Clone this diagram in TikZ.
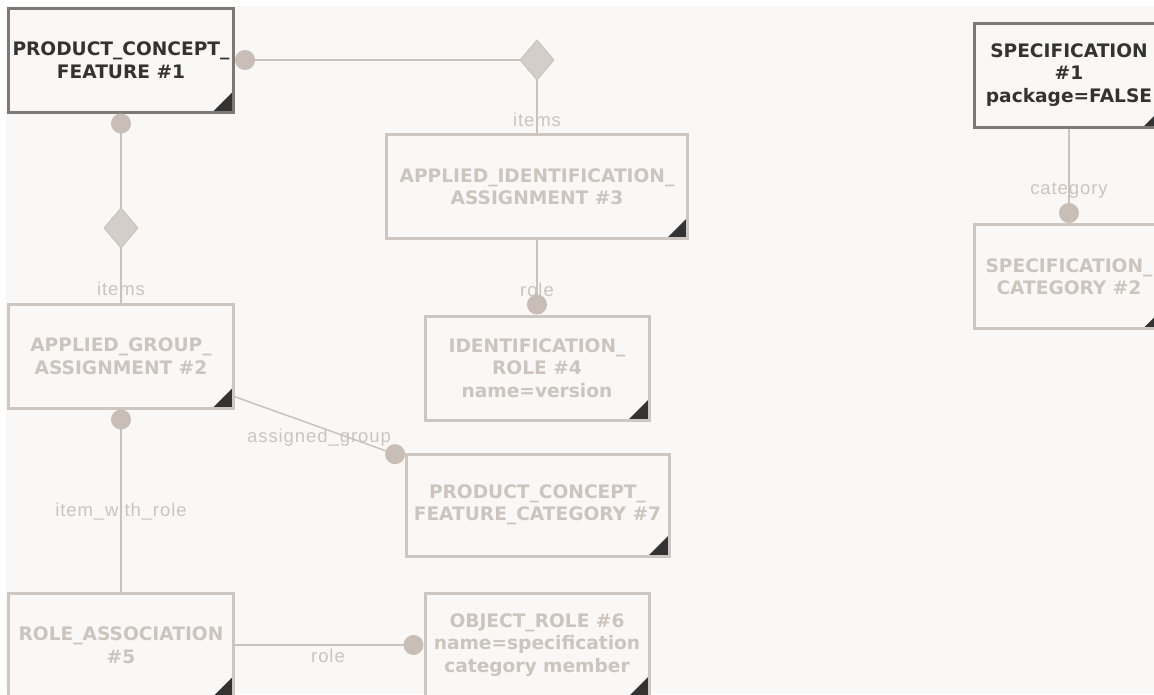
\documentclass[tikz,border=0pt]{standalone}
\usepackage{fontspec}
\setmainfont{Liberation Sans}[LetterSpace=5]
\newfontfamily\boxfont{DejaVu Sans}
\usetikzlibrary{shapes.geometric,arrows.meta}

\definecolor{bgcream}{HTML}{F9F8F6}
\definecolor{boxdark}{HTML}{7E7975}
\definecolor{textdark}{HTML}{333333}
\definecolor{boxlight}{HTML}{CEC6C0}
\definecolor{textlight}{HTML}{CCC4BE}
\definecolor{linelight}{HTML}{CAC2BC}
\definecolor{dotfill}{HTML}{C8BEB7}
\definecolor{linkfill}{HTML}{D4CECA}
\definecolor{cornerdark}{HTML}{333333}

\tikzset{
    entity/.style={draw=boxlight, line width=3pt, fill=bgcream, text=textlight,
        minimum width=225pt, minimum height=104pt, inner sep=0pt, align=center,
        font=\boxfont\bfseries\fontsize{18.6}{22.5}\selectfont,
        path picture={\fill[cornerdark] (path picture bounding box.south east)
            -- ++(-21pt,0) -- ++(21pt,21pt) -- cycle;}},
    focus/.style={entity, draw=boxdark, text=textdark},
    link/.style={shape=diamond, draw=linelight, fill=linkfill, line width=0.8pt,
        minimum width=34pt, minimum height=40pt, inner sep=0pt},
    rel/.style={draw=linelight, line width=1.5pt},
    lbl/.style={text=textlight, inner sep=0pt, font=\fontsize{18.5}{20}\selectfont},
    dot/.tip={Circle[length=20pt, width=20pt, color=dotfill]}
}

\begin{document}
\begin{tikzpicture}[x=1pt, y=-1pt]
    % Hintergrund
    \clip (0,0) rectangle (1154,694);
    \fill[white] (0,0) rectangle (1154,694);
    \fill[bgcream] (6,6) rectangle (1154,694);

    % ==========================================
    % ENTITAETEN
    % ==========================================
    \node[focus] (pcf) at (121,60) {PRODUCT\_CONCEPT\_\\FEATURE \#1};
    \node[entity, minimum width=301pt] (aia) at (537,186.5) {APPLIED\_IDENTIFICATION\_\\ASSIGNMENT \#3};
    \node[entity] (aga) at (121,356) {APPLIED\_GROUP\_\\ASSIGNMENT \#2};
    \node[entity, minimum width=224pt] (ir) at (537,368) {IDENTIFICATION\_\\ROLE \#4\\name=version};
    \node[entity, minimum width=263pt, minimum height=102pt] (pcfc) at (537.5,505) {PRODUCT\_CONCEPT\_\\FEATURE\_CATEGORY \#7};
    \node[entity] (ra) at (121,645) {ROLE\_ASSOCIATION\\\#5};
    \node[entity, minimum width=224pt] (or) at (537,645) {OBJECT\_ROLE \#6\\name=specification\\category member};

    % rechte Spalte
    \node[focus, minimum width=190pt] (spec) at (1069,75) {SPECIFICATION\\\#1\\package=FALSE};
    \node[entity, minimum width=190pt] (speccat) at (1069,276.5) {SPECIFICATION\_\\CATEGORY \#2};

    % Rauten (Auswahl)
    \node[link] (selA) at (537,60) {};
    \node[link] (selB) at (121,228) {};

    % ==========================================
    % BESCHRIFTUNGEN
    % ==========================================
    \node[lbl] (lblitemsA) at (537,120) {items};
    \node[lbl] (lblitemsB) at (121,289) {items};
    \node[lbl] (lblroleA) at (537,290) {role};
    \node[lbl] (lblassigned) at (319,438) {assigned\_group};
    \node[lbl] (lblitemrole) at (121,512) {item\_with\_role};
    \node[lbl] (lblroleB) at (328,656) {role};
    \node[lbl] (lblcategory) at (1069,190) {category};

    % ==========================================
    % VERBINDUNGEN
    % ==========================================
    \draw[rel, dot-] (pcf) -- (selA);
    \draw[rel] (selA) -- (aia);
    \draw[rel, dot-] (pcf) -- (selB);
    \draw[rel] (selB) -- (aga);
    \draw[rel, -dot] (aia) -- (ir);
    \draw[rel, dot-] (aga) -- (ra);
    \draw[rel, -dot] (aga) -- (pcfc);
    \draw[rel, -dot] (ra) -- (or);
    \draw[rel, -dot] (spec) -- (speccat);

    % Rauten nochmal oben drauf
    \node[link] at (selA) {};
    \node[link] at (selB) {};
\end{tikzpicture}
\end{document}
